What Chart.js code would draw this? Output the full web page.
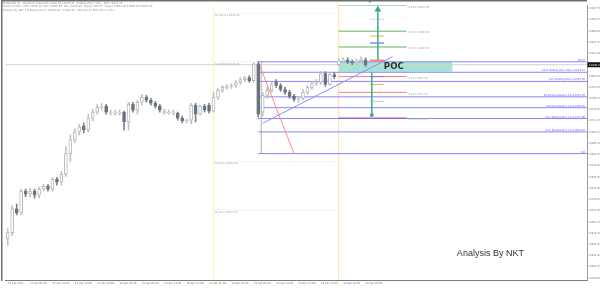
<!DOCTYPE html>
<html><head><meta charset="utf-8">
<script src="https://cdn.jsdelivr.net/npm/chart.js@4/dist/chart.umd.min.js"></script>
<style>html,body{margin:0;padding:0;background:#fff;overflow:hidden}canvas{display:block}</style>
</head><body>
<canvas id="c" width="600" height="288"></canvas>
<script>
// ---------- data ----------
const timeLabels = ["27 Apr 2021","27 Apr 05:00","27 Apr 10:00","27 Apr 15:00","27 Apr 20:00","28 Apr 01:00","28 Apr 06:00","28 Apr 11:00","28 Apr 16:00","28 Apr 21:00","29 Apr 02:00","29 Apr 07:00","29 Apr 12:00","29 Apr 17:00","29 Apr 22:00","30 Apr 03:00","30 Apr 08:00"];
const labelBars = [0,5,10,15,20,25,30,35,40,45,50,55,60,65,70,75,80];
const priceTicks = [13947.70,13924.25,13900.80,13877.35,13853.90,13830.45,13807.00,13783.55,13760.10,13736.65,13713.20,13689.75,13666.30,13642.85,13619.40,13595.95,13572.50,13549.05,13525.60,13502.15,13478.70,13455.25,13431.80,13408.35,13384.90];

const openP = [13467.4,13479.7,13529.2,13521.0,13566.3,13560.1,13566.3,13558.1,13570.4,13576.6,13570.4,13591.1,13584.9,13601.4,13644.7,13673.5,13690.0,13702.4,13694.1,13718.9,13731.2,13741.5,13743.6,13729.2,13729.2,13729.2,13731.2,13710.6,13747.7,13735.4,13751.9,13762.2,13756.0,13749.8,13743.6,13729.2,13729.2,13729.2,13729.2,13718.9,13712.7,13714.7,13745.7,13727.1,13743.6,13745.7,13733.3,13762.2,13776.6,13782.8,13784.8,13786.9,13793.1,13799.3,13803.4,13797.2,13832.2,13731.2,13766.3,13776.6,13795.1,13786.9,13778.6,13772.5,13764.2,13758.0,13760.1,13772.5,13782.8,13791.0,13793.1,13811.6,13789.0,13809.6,13830.2,13838.4,13840.5,13836.4,13834.3,13838.4,13840.5];
const highP = [13488.0,13535.4,13539.5,13570.4,13570.4,13572.5,13570.4,13574.6,13580.7,13580.7,13595.2,13595.2,13607.5,13659.1,13683.8,13696.2,13706.5,13708.6,13727.1,13737.4,13747.7,13749.8,13747.7,13735.4,13735.4,13735.4,13733.3,13751.9,13751.9,13756.0,13768.3,13766.3,13760.1,13753.9,13747.7,13737.4,13735.4,13735.4,13731.2,13723.0,13716.8,13749.8,13749.8,13745.7,13747.7,13749.8,13772.5,13780.7,13786.9,13789.0,13791.0,13797.2,13803.4,13805.5,13807.5,13834.3,13836.4,13772.5,13782.8,13795.1,13799.3,13791.0,13782.8,13776.6,13768.3,13764.2,13778.6,13786.9,13795.1,13799.3,13815.8,13815.8,13813.7,13813.7,13842.6,13844.6,13844.6,13840.5,13842.6,13846.7,13844.6];
const lowP = [13452.9,13473.5,13516.8,13516.8,13554.0,13554.0,13551.9,13551.9,13566.3,13566.3,13566.3,13578.7,13578.7,13597.2,13628.2,13667.3,13683.8,13687.9,13690.0,13712.7,13727.1,13735.4,13727.1,13725.1,13725.1,13725.1,13694.1,13694.1,13731.2,13727.1,13745.7,13751.9,13745.7,13739.5,13731.2,13727.1,13727.1,13725.1,13714.7,13708.6,13708.6,13706.5,13710.6,13725.1,13731.2,13729.2,13731.2,13758.0,13772.5,13778.6,13780.7,13782.8,13789.0,13795.1,13793.1,13793.1,13720.9,13723.0,13760.1,13772.5,13782.8,13774.5,13768.3,13760.1,13753.9,13751.9,13756.0,13768.3,13778.6,13786.9,13789.0,13784.8,13786.9,13801.3,13828.1,13834.3,13832.2,13830.2,13830.2,13834.3,13826.1];
const closeP = [13479.7,13529.2,13521.0,13566.3,13560.1,13566.3,13558.1,13570.4,13576.6,13570.4,13591.1,13584.9,13601.4,13644.7,13673.5,13690.0,13700.3,13694.1,13718.9,13731.2,13741.5,13743.6,13731.2,13731.2,13731.2,13731.2,13710.6,13747.7,13735.4,13751.9,13762.2,13756.0,13749.8,13743.6,13735.4,13733.3,13731.2,13731.2,13718.9,13712.7,13714.7,13745.7,13727.1,13743.6,13735.4,13733.3,13762.2,13776.6,13782.8,13784.8,13786.9,13793.1,13799.3,13803.4,13797.2,13832.2,13727.1,13766.3,13776.6,13789.0,13786.9,13778.6,13772.5,13764.2,13758.0,13760.1,13772.5,13782.8,13791.0,13795.1,13811.6,13789.0,13809.6,13805.5,13838.4,13840.5,13836.4,13834.3,13838.4,13842.6,13830.2];

const lastPrice = 13830.2;

// Fibonacci retracement of the swing (bar 56 high -> low)
const fibPrices = [13836.4,13814.5,13795.4,13763.2,13740.6,13717.9,13690.0,13644.7];
const fibNames = ["100.0","88.6 Trading Zone Max 13814.51","78.6 Trading Zone 13795.40","61.8 Potential Ret 1.0 13763.19","50 Potential Ret 1.0 13740.55","38.2 Shallow Ret 1.0 13717.90","23.6 Shallow Ret 1.0 13689.94","0.0"];
const fibStartBar = 56;

// expansion levels near the day separator
const expPrices = [13937.4,13836.4,13628.2,13527.1];
const expNames = ["FE 161.8 13937.40","FE 100.0 13836.40","FE 61.8 13628.20","FE 38.2 13527.10"];

// target zone levels (right)
const zonePrices = [13953.9,13900.3,13867.3,13805.5,13772.5,13718.9];
const zoneColors = ["#5cb85c","#5cb85c","#5cb85c","#ff7b7b","#ff7b7b","#b04ab0"];
const zoneNames = ["0.145 13953.90","0.114 13900.30","0.103 13867.30","0.12 13805.50","0.12 13772.50","0.13 13718.90"];

// small marker levels
const markPrices = [13925.0,13890.0,13875.5,13838.4,13805.5,13789.0,13753.9];
const markColors = ["#d4b8f4","#f2b24e","#4f4fff","#f08a8a","#9a66d6","#f2b24e","#c4c4c4"];

const pocTop = 13836.4, pocBottom = 13815.8;

// ---------- chart ----------
const bars = openP.map((_, i) => i);
const bull = bars.map(i => closeP[i] >= openP[i]);
const ds = [];
function seg(pts, color, width, extra) {
  return Object.assign({type:'line', data: pts.map(p => ({x:p[0], y:p[1]})), borderColor: color,
    borderWidth: width, pointRadius: 0, fill: false, tension: 0, order: 5}, extra || {});
}
// candles
ds.push({type:'bar', data: bars.map(i => ({x:i, y:[openP[i], closeP[i]]})),
  backgroundColor: bars.map(i => bull[i] ? '#ffffff' : '#68737f'),
  borderColor: bars.map(i => bull[i] ? '#b8b8b8' : '#68737f'),
  borderWidth: 1, borderSkipped: false, barThickness: 3, minBarLength: 1, grouped: false, order: 1});
ds.push({type:'bar', data: bars.map(i => ({x:i, y:[lowP[i], highP[i]]})),
  backgroundColor: bars.map(i => bull[i] ? '#c2c2c2' : '#7a848f'),
  barThickness: 1, grouped: false, order: 2});

// POC box
ds.push(seg([[74, pocTop],[99.45, pocTop]], 'rgba(0,0,0,0)', 0, {fill: {value: pocBottom}, backgroundColor: '#a6e3d3', order: 20}));
// separators
ds.push(seg([[46, 13380.8],[46, 13953.9]], '#fff3b0', 1, {order: 19}));
ds.push(seg([[74, 13380.8],[74, 13953.9]], '#ffd8a0', 1, {order: 19}));
// current price line
ds.push(seg([[-0.5, lastPrice],[129.5, lastPrice]], '#d2d2d2', 1, {order: 18}));
// expansion faint lines
expPrices.forEach(p => ds.push(seg([[46, p],[74, p]], '#e8ecd8', 1, {borderDash:[2,2], order: 17})));
// gray vertical of swing
ds.push(seg([[56.7, fibPrices[0]],[56.7, fibPrices[7]]], '#c4c4c4', 1, {order: 16}));
// fib lines
fibPrices.forEach(p => ds.push(seg([[fibStartBar, p],[129.5, p]], '#8585ff', 1, {order: 6})));
// zone lines
zonePrices.forEach((p, k) => ds.push(seg([[74, p],[89.2, p]], zoneColors[k], 1, {order: 5})));
// markers
markPrices.forEach((p, k) => ds.push(seg([[81, p],[84.1, p]], markColors[k], k === 3 ? 2.5 : 1, {order: 4, borderDash: k === 0 ? [2,1] : []})));
// diagonals
ds.push(seg([[56, 13836.4],[64, 13644.7]], '#ff8c8c', 1, {order: 3}));
ds.push(seg([[57, 13708.0],[86, 13846.9]], '#8a8aff', 1, {order: 3}));
// arrows
ds.push(seg([[82.75, 13840.5],[82.75, 13945.5]], '#3aaa8c', 1.5, {order: 0, pointRadius:[0,2.5], pointStyle:'triangle', pointBackgroundColor:'#3aaa8c', pointBorderColor:'#3aaa8c'}));
ds.push(seg([[81.4, 13813.7],[81.4, 13725.1]], '#3aaa8c', 1.5, {order: 0, pointRadius:[0,1.2], pointBackgroundColor:'#3aaa8c', pointBorderColor:'#3aaa8c'}));

const textPlugin = {
  id: 'texts',
  afterDraw(chart) {
    const {ctx, chartArea: a, scales: {x, y}} = chart;
    ctx.save();
    // frame
    ctx.fillStyle = '#6e6e6e';
    ctx.fillRect(1, 0, a.right - 1, 1.5);
    ctx.fillRect(1, 0, 1.5, a.bottom + 1);
    const tiny = '2.6px "DejaVu Sans"';
    // header
    ctx.fillStyle = '#8a8a8a'; ctx.font = tiny; ctx.textBaseline = 'top'; ctx.textAlign = 'left';
    ctx.fillText('\u25BC NAS100,H1  13840.50 13844.60 13826.10 13830.20   Trading Zone / Fibo   POC 13826.10', 3, 2);
    ctx.fillText('Volume Profile: POC 13826.10  VAH 13836.40  VAL 13815.80   Range 191.70   Target 13953.90 13900.30 13867.30', 3, 5.5);
    ctx.fillText('Analysis By NKT  Fib Retracement 13836.40 - 13644.70   Exp 161.8 / 100 / 61.8 / 38.2', 3, 9);
    // fib names right
    ctx.fillStyle = '#5a5aff'; ctx.textAlign = 'right'; ctx.textBaseline = 'bottom';
    fibPrices.forEach((p, k) => ctx.fillText(fibNames[k], a.right - 2, y.getPixelForValue(p) - 0.3));
    // expansion names
    ctx.fillStyle = '#a0a0a0'; ctx.textAlign = 'left'; ctx.textBaseline = 'top';
    expPrices.forEach((p, k) => ctx.fillText(expNames[k], x.getPixelForValue(46.3), y.getPixelForValue(p) + 0.8));
    // zone names
    ctx.textBaseline = 'middle';
    zonePrices.forEach((p, k) => ctx.fillText(zoneNames[k], x.getPixelForValue(89.6), y.getPixelForValue(p) + 1.5));
    // POC
    ctx.fillStyle = '#2e2e2e'; ctx.textAlign = 'center'; ctx.textBaseline = 'middle';
    ctx.font = 'bold 9.5px "DejaVu Sans Condensed", Roboto, sans-serif';
    ctx.fillText('POC', x.getPixelForValue(86.3), y.getPixelForValue(13825.6));
    // signature
    ctx.fillStyle = '#333333'; ctx.font = '9px "Liberation Sans", sans-serif';
    ctx.fillText('Analysis By NKT', x.getPixelForValue(107.9), y.getPixelForValue(13435.4));
    // current price box
    const py = y.getPixelForValue(lastPrice);
    ctx.fillStyle = '#111'; ctx.fillRect(a.right + 0.5, py - 2.5, 12.5, 5);
    ctx.fillStyle = '#fff'; ctx.font = tiny; ctx.textAlign = 'left';
    ctx.fillText(lastPrice.toFixed(2), a.right + 2, py + 0.2);
    // top marker
    ctx.fillStyle = '#777';
    ctx.beginPath(); const tx = x.getPixelForValue(81);
    ctx.moveTo(tx - 1.5, 1); ctx.lineTo(tx + 1.5, 1); ctx.lineTo(tx, 3); ctx.closePath(); ctx.fill();
    ctx.restore();
  }
};

new Chart(document.getElementById('c'), {
  type: 'bar',
  data: {datasets: ds},
  options: {
    responsive: false, animation: false, events: [],
    layout: {padding: {left: 3, top: 2, right: 0, bottom: 0}},
    plugins: {legend: {display: false}, tooltip: {enabled: false}},
    scales: {
      x: {type: 'linear', min: -0.5, max: 129.5, offset: false,
        grid: {display: false, drawTicks: false},
        border: {display: true, color: '#7a7a7a', width: 1},
        afterBuildTicks: s => { s.ticks = labelBars.map(v => ({value: v})); },
        afterFit: s => { s.height = 8; },
        ticks: {autoSkip: false, maxRotation: 0, minRotation: 0, align: 'start', padding: 1.5,
          color: '#777', font: {size: 2.6, family: 'DejaVu Sans'},
          callback: v => { const k = labelBars.indexOf(v); return k >= 0 ? timeLabels[k] : ''; }}
      },
      y: {type: 'linear', position: 'right', min: 13380.8, max: 13953.9,
        grid: {display: false, drawTicks: false},
        border: {display: true, color: '#9a9a9a', width: 1},
        afterBuildTicks: s => { s.ticks = priceTicks.map(v => ({value: v})); },
        afterFit: s => { s.width = 13; },
        ticks: {autoSkip: false, padding: 1.5, color: '#777', font: {size: 2.6, family: 'DejaVu Sans'},
          callback: v => v.toFixed(2)}
      }
    }
  },
  plugins: [textPlugin]
});
</script>
</body></html>
